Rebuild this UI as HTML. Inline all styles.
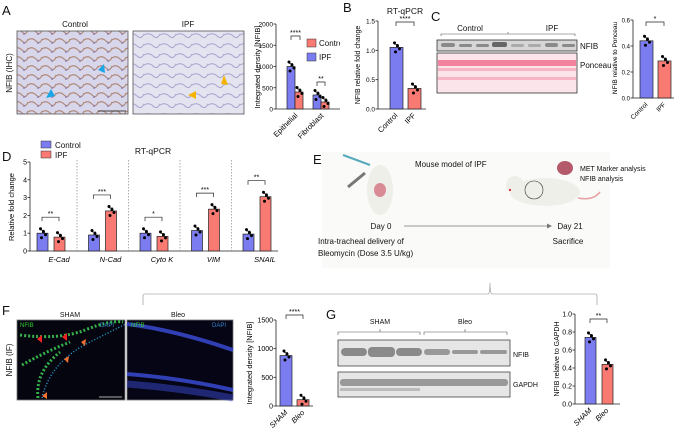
<!DOCTYPE html>
<html><head><meta charset="utf-8">
<style>
body{margin:0;background:#fff;}
svg{display:block;font-family:"Liberation Sans",sans-serif;}
</style></head>
<body>
<svg id="fig" width="674" height="432" viewBox="0 0 674 432" xmlns="http://www.w3.org/2000/svg">
<defs>
<pattern id="ihc1" width="14" height="9" patternUnits="userSpaceOnUse"><rect width="14" height="9" fill="#d8d6ea"/><path d="M0 4 Q4 1 8 5 T14 3" stroke="#b08a7a" stroke-width="1.2" fill="none"/><circle cx="10" cy="7" r="1" fill="#8c86b8"/></pattern>
<pattern id="ihc2" width="16" height="10" patternUnits="userSpaceOnUse"><rect width="16" height="10" fill="#e4e3f0"/><path d="M0 5 Q5 2 9 6 T16 4" stroke="#a9a3cc" stroke-width="1" fill="none"/></pattern>
<clipPath id="clipA"><rect x="0" y="0" width="340" height="140"/></clipPath>
</defs>
<g id="static" font-size="8" fill="#111">
<text x="2" y="15" font-size="13">A</text>
<text x="343" y="12" font-size="13">B</text>
<text x="431" y="21" font-size="13">C</text>
<text x="2" y="161" font-size="13">D</text>
<text x="2" y="315" font-size="13">F</text>
<text x="326" y="319" font-size="13">G</text>

<!-- A images -->
<text x="75" y="27" text-anchor="middle">Control</text>
<text x="188" y="27" text-anchor="middle">IPF</text>
<text transform="translate(12,73) rotate(-90)" text-anchor="middle">NFIB (IHC)</text>
<rect x="17" y="31" width="111" height="83" fill="url(#ihc1)" stroke="#555" stroke-width="0.8"/>
<rect x="133" y="31" width="111" height="83" fill="url(#ihc2)" stroke="#555" stroke-width="0.8"/>
<polygon points="98,70 104,64 105,73" fill="#1aa7e8"/>
<polygon points="46,98 51,89 55,96" fill="#1aa7e8"/>
<polygon points="221,84 224,75 228,85" fill="#f4b400"/>
<polygon points="188,95 196,91 196,99" fill="#f4b400"/>
<line x1="98" y1="111" x2="126" y2="111" stroke="#444"/>
<g clip-path="url(#clipA)">
<rect x="307" y="39" width="9" height="8" fill="#f87a72" stroke="#333" stroke-width="0.5"/>
<text x="319" y="46">Control</text>
<rect x="307" y="53" width="9" height="8" fill="#7b7cf0" stroke="#333" stroke-width="0.5"/>
<text x="319" y="60">IPF</text>
</g>

<text x="405" y="14" text-anchor="middle" font-size="8.5">RT-qPCR</text>
<!-- C blot -->
<text x="470" y="31" text-anchor="middle">Control</text>
<text x="552" y="31" text-anchor="middle">IPF</text>
<path d="M441 36 v-2 h134 v2 M508 34 v-2" stroke="#555" fill="none" stroke-width="0.6"/>
<rect x="437" y="40" width="140" height="11" fill="#d6d6d6" stroke="#333" stroke-width="0.8"/>
<g fill="#8a8a8a"><rect x="441" y="43" width="14" height="4" rx="2"/><rect x="459" y="44" width="13" height="3" rx="1.5"/><rect x="476" y="44" width="13" height="3" rx="1.5"/><rect x="492" y="42" width="15" height="5" rx="2" fill="#666"/><rect x="511" y="44" width="13" height="3" rx="1.5" fill="#aaa"/><rect x="528" y="44" width="13" height="3" rx="1.5" fill="#aaa"/><rect x="545" y="43" width="13" height="4" rx="2"/><rect x="562" y="44" width="13" height="3" rx="1.5"/></g>
<rect x="437" y="53" width="140" height="40" fill="#fbe5ea" stroke="#333" stroke-width="0.8"/>
<g fill="#f06a8a" opacity="0.8"><rect x="438" y="60" width="138" height="6"/><rect x="438" y="68" width="138" height="3" opacity="0.5"/><rect x="438" y="77" width="138" height="3" opacity="0.5"/></g>
<text x="580" y="49">NFIB</text>
<text x="580" y="68">Ponceau</text>

<!-- D legend -->
<rect x="41" y="141" width="10" height="7" fill="#7b7cf0" stroke="#333" stroke-width="0.5"/>
<text x="55" y="148">Control</text>
<rect x="41" y="151" width="10" height="7" fill="#f87a72" stroke="#333" stroke-width="0.5"/>
<text x="55" y="158">IPF</text>
<text x="153" y="154" text-anchor="middle" font-size="8.5">RT-qPCR</text>

<!-- E schematic -->
<rect x="322" y="152" width="288" height="116" fill="#fafaf8"/>
<text x="313" y="164" font-size="13">E</text>
<text x="415" y="167">Mouse model of IPF</text>
<text x="580" y="171" font-size="7">MET Marker analysis</text>
<text x="580" y="181" font-size="7">NFIB analysis</text>
<g><ellipse cx="380" cy="190" rx="13" ry="25" fill="#efefea"/><ellipse cx="380" cy="190" rx="6" ry="7" fill="#d88a95"/><line x1="343" y1="155" x2="370" y2="165" stroke="#5ab" stroke-width="2"/><line x1="348" y1="187" x2="365" y2="173" stroke="#777" stroke-width="3"/></g>
<g><ellipse cx="545" cy="192" rx="35" ry="14" fill="#efefea"/><circle cx="515" cy="185" r="9" fill="#efefea"/><circle cx="510" cy="190" r="1" fill="#c00"/><path d="M578 198 q15 3 22 -6" stroke="#e8a0a0" fill="none" stroke-width="1.5"/><circle cx="534" cy="190" r="9" fill="none" stroke="#333" stroke-width="0.6"/><ellipse cx="565" cy="168" rx="8" ry="7" fill="#b45a6a"/></g>
<text x="381" y="229" text-anchor="middle">Day 0</text>
<line x1="404" y1="226" x2="547" y2="226" stroke="#777" stroke-width="0.8"/>
<polygon points="547,223.5 552,226 547,228.5" fill="#777"/>
<text x="570" y="229" text-anchor="middle">Day 21</text>
<text x="318" y="244">Intra-tracheal    delivery    of</text>
<text x="318" y="256">Bleomycin (Dose 3.5 U/kg)</text>
<text x="568" y="244" text-anchor="middle">Sacrifice</text>
<path d="M143 305 v-9 q0 -2 2 -2 h343 q2 0 2 -11 q0 11 2 11 h103 q2 0 2 2 v9" stroke="#888" fill="none" stroke-width="0.6"/>

<!-- F images -->
<text x="70" y="317" text-anchor="middle" font-size="7">SHAM</text>
<text x="178" y="317" text-anchor="middle" font-size="7">Bleo</text>
<text transform="translate(12,360) rotate(-90)" text-anchor="middle">NFIB (IF)</text>
<rect x="17" y="320" width="108" height="80" fill="#050510" stroke="#777" stroke-width="0.8"/>
<path d="M20 335 Q60 340 85 330 T123 322 M22 365 Q45 352 70 342 M38 398 Q35 372 60 352" stroke="#35b04a" stroke-width="3" fill="none" stroke-dasharray="2 2"/>
<path d="M42 398 Q50 362 90 342 T123 325" stroke="#2a9ad0" stroke-width="1.5" fill="none" stroke-dasharray="1 2"/>
<text x="20" y="327" fill="#3c3" font-size="6">NFIB</text><text x="100" y="327" fill="#38c" font-size="6">DAPI</text>
<polygon points="37,339 42,335 42,343" fill="#e22"/><polygon points="62,337 67,333 67,341" fill="#e22"/><polygon points="81,342 86,339 85,346" fill="#f07030"/><polygon points="64,359 69,356 68,363" fill="#f07030"/><polygon points="42,396 47,392 47,399" fill="#f07030"/>
<line x1="99" y1="397" x2="122" y2="397" stroke="#aaa"/>
<rect x="127" y="320" width="106" height="80" fill="#050515" stroke="#777" stroke-width="0.8"/>
<path d="M127 324 Q175 330 233 350 M127 374 Q180 378 233 390" stroke="#3a4ad0" stroke-width="4" fill="none" opacity="0.85"/>
<path d="M127 384 Q180 388 233 398" stroke="#3a4ad0" stroke-width="7" fill="none" opacity="0.5"/>
<text x="131" y="327" fill="#3c3" font-size="6">NFIB</text><text x="212" y="327" fill="#38c" font-size="6">DAPI</text>

<!-- G blot -->
<text x="380" y="324" text-anchor="middle" font-size="7">SHAM</text>
<text x="465" y="324" text-anchor="middle" font-size="7">Bleo</text>
<path d="M338 335 v-3 h82 v3 M424 335 v-3 h83 v3 M380 332 v-3 M465 332 v-3" stroke="#555" fill="none" stroke-width="0.6"/>
<rect x="338" y="340" width="172" height="26" fill="#e6e6e6" stroke="#444" stroke-width="0.8"/>
<g fill="#8a8a8a"><rect x="341" y="348" width="26" height="8" rx="4"/><rect x="368" y="347" width="27" height="10" rx="4"/><rect x="396" y="348" width="26" height="8" rx="4"/><rect x="424" y="349" width="26" height="6" rx="3" fill="#999"/><rect x="452" y="350" width="26" height="4" rx="2" fill="#999"/><rect x="480" y="350" width="27" height="4" rx="2" fill="#999"/></g>
<rect x="338" y="372" width="172" height="25" fill="#e6e6e6" stroke="#444" stroke-width="0.8"/>
<rect x="340" y="379" width="168" height="7" rx="3" fill="#999"/><rect x="340" y="388" width="80" height="3" fill="#bbb"/>
<text x="513" y="357" font-size="7">NFIB</text>
<text x="513" y="387" font-size="7">GAPDH</text>
</g>
<g id="charts"></g>
</svg>
<script>
// Panel A
const aCategories = ["Epithelial", "Fibroblast"];
const aIpf = [1000, 330];
const aControl = [400, 165];
const aTicks = [0, 500, 1000, 1500, 2000];
// Panel B
const bCategories = ["Control", "IPF"];
const bValues = [1.05, 0.35];
const bTicks = [0, 0.5, 1.0, 1.5];
// Panel C
const cCategories = ["Control", "IPF"];
const cValues = [0.44, 0.285];
const cTicks = [0, 0.2, 0.4, 0.6];
// Panel D
const dGenes = ["E-Cad", "N-Cad", "Cyto K", "VIM", "SNAIL"];
const dControl = [1.0, 0.9, 1.0, 1.15, 0.95];
const dIpf = [0.78, 2.25, 0.82, 2.35, 3.05];
const dTicks = [0, 1, 2, 3, 4, 5];
const dSig = ["**", "***", "*", "***", "**"];
// Panel F
const fCategories = ["SHAM", "Bleo"];
const fValues = [880, 110];
const fTicks = [0, 500, 1000, 1500];
// Panel G
const gCategories = ["SHAM", "Bleo"];
const gValues = [0.74, 0.44];
const gTicks = [0, 0.2, 0.4, 0.6, 0.8, 1.0];

const NS = "http://www.w3.org/2000/svg";
const root = document.getElementById("charts");
const BLUE = "#7b7cf0", RED = "#f87a72";
function mk(tag, attrs, parent) {
  const e = document.createElementNS(NS, tag);
  for (const k in attrs) e.setAttribute(k, attrs[k]);
  (parent || root).appendChild(e);
  return e;
}
function axis(ax, y0, y1, vmax, ticks, xEnd, labelFmt, fs) {
  const sc = v => y0 - (v / vmax) * (y0 - y1);
  const yl = mk("line", {x1: ax, y1: y0, x2: ax, y2: y1, stroke: "#222", "stroke-width": 0.8});
  
  
  const xl = mk("line", {x1: ax, y1: y0, x2: xEnd, y2: y0, stroke: "#222", "stroke-width": 0.8});
  
  
  ticks.forEach(t => {
    mk("line", {x1: ax - 2.5, y1: sc(t), x2: ax, y2: sc(t), stroke: "#222", "stroke-width": 0.8});
    const tx = mk("text", {x: ax - 3, y: sc(t) + 2.5, "text-anchor": "end", "font-size": fs || 7});
    tx.textContent = labelFmt(t);
    
    
  });
  return sc;
}
function bar(x, w, sc, y0, v, color, name) {
  const r = mk("rect", {x: x, y: sc(v), width: w, height: y0 - sc(v), fill: color, stroke: "#222", "stroke-width": 0.7});
  
  
  mk("line", {x1: x + w / 2, y1: sc(v) - 3, x2: x + w / 2, y2: sc(v), stroke: "#222", "stroke-width": 0.7});
  mk("line", {x1: x + w / 2 - 2, y1: sc(v) - 3, x2: x + w / 2 + 2, y2: sc(v) - 3, stroke: "#222", "stroke-width": 0.7});
  [-2, 1, 3, -1].forEach((d, i) => mk("circle", {cx: x + w / 2 + d, cy: sc(v) + (i - 1.5) * 3, r: 1.5, fill: "#000"}));
}
function rotLabel(x, y, txt, name, italic, fs) {
  const t = mk("text", {transform: `translate(${x},${y}) rotate(-45)`, "text-anchor": "end", "font-size": fs || 7.5, "font-style": italic ? "italic" : "normal"});
  t.textContent = txt;
  
  
}
function ytitle(x, y, txt, name, fs) {
  const t = mk("text", {transform: `translate(${x},${y}) rotate(-90)`, "text-anchor": "middle", "font-size": fs || 7.5});
  t.textContent = txt;
  
  
}
function sig(x1, x2, y, s) {
  mk("path", {d: `M${x1} ${y + 4} V${y} H${x2} V${y + 4}`, stroke: "#222", fill: "none", "stroke-width": 0.7});
  const t = mk("text", {x: (x1 + x2) / 2, y: y - 1, "text-anchor": "middle", "font-size": 7});
  t.textContent = s;
  
  
}

// A chart
(function () {
  const y0 = 109, sc = axis(276, y0, 24, 2000, aTicks, 340, t => t, 6.5);
  aCategories.forEach((c, i) => {
    const gx = 287 + i * 26;
    bar(gx, 8, sc, y0, aIpf[i], BLUE, "bar-ipf-" + c.toLowerCase());
    bar(gx + 8, 8, sc, y0, aControl[i], RED, "bar-control-" + c.toLowerCase());
    rotLabel(gx + 11, y0 + 7, c, "x-label-" + c.toLowerCase());
  });
  sig(291, 300, 36, "****"); sig(317, 325, 82, "**");
  ytitle(260, 67, "Integrated density [NFIB]", "a-y-axis-title");
})();
// B chart
(function () {
  const y0 = 109, sc = axis(378, y0, 21, 1.5, bTicks, 426, t => t.toFixed(1), 6.5);
  const cols = [BLUE, RED];
  bCategories.forEach((c, i) => {
    bar(390 + i * 18, 13, sc, y0, bValues[i], cols[i], "bar-" + c.toLowerCase());
    rotLabel(398 + i * 18, y0 + 7, c, "x-label-" + c.toLowerCase());
  });
  sig(396, 414, 22, "****");
  ytitle(360, 65, "NFIB relative fold change", "b-y-axis-title", 7);
})();
// C chart
(function () {
  const y0 = 98, sc = axis(633, y0, 20, 0.6, cTicks, 674, t => t.toFixed(1), 6);
  const cols = [BLUE, RED];
  cCategories.forEach((c, i) => {
    bar(640 + i * 18, 13, sc, y0, cValues[i], cols[i], "bar-" + c.toLowerCase());
    rotLabel(648 + i * 18, y0 + 7, c, "x-label-" + c.toLowerCase(), false, 6.5);
  });
  sig(646, 664, 22, "*");
  ytitle(617, 58, "NFIB relative to Ponceau", "c-y-axis-title", 6.5);
})();
// D chart
(function () {
  const y0 = 251, sc = axis(30, y0, 162, 5, dTicks, 278, t => t);
  dGenes.forEach((g, i) => {
    const gx = 37 + i * 51.5;
    bar(gx, 11, sc, y0, dControl[i], BLUE, "bar-control-" + g.toLowerCase().replace(/ /g, "-"));
    bar(gx + 17, 11, sc, y0, dIpf[i], RED, "bar-ipf-" + g.toLowerCase().replace(/ /g, "-"));
    const t = mk("text", {x: gx + 22, y: 262, "text-anchor": "middle", "font-size": 7.5, "font-style": "italic"});
    t.textContent = g;
    
    
    const top = sc(Math.max(dControl[i], dIpf[i]) + 0.9);
    sig(gx + 5, gx + 22, Math.max(top, 162), dSig[i]);
    if (i < 4) mk("line", {x1: gx + 40, y1: 160, x2: gx + 40, y2: y0, stroke: "#777", "stroke-width": 0.6, "stroke-dasharray": "1.5 1.5"});
  });
  ytitle(14, 207, "Relative fold change", "d-y-axis-title");
})();
// F chart
(function () {
  const y0 = 406, sc = axis(276, y0, 320, 1500, fTicks, 313, t => t, 7);
  const cols = [BLUE, RED];
  fCategories.forEach((c, i) => {
    bar(280 + i * 17, 12, sc, y0, fValues[i], cols[i], "bar-" + c.toLowerCase());
    rotLabel(288 + i * 17, y0 + 7, c, "x-label-" + c.toLowerCase(), true);
  });
  sig(286, 303, 315, "****");
  ytitle(252, 363, "Integrated density [NFIB]", "f-y-axis-title");
})();
// G chart
(function () {
  const y0 = 404, sc = axis(575, y0, 314, 1.0, gTicks, 620, t => t.toFixed(1), 7);
  const cols = [BLUE, RED];
  gCategories.forEach((c, i) => {
    bar(585 + i * 17, 11, sc, y0, gValues[i], cols[i], "bar-" + c.toLowerCase());
    rotLabel(592 + i * 17, y0 + 7, c, "x-label-" + c.toLowerCase(), true);
  });
  sig(590, 607, 319, "**");
  ytitle(559, 359, "NFIB relative to GAPDH", "g-y-axis-title", 7);
})();
</script>
</body></html>
